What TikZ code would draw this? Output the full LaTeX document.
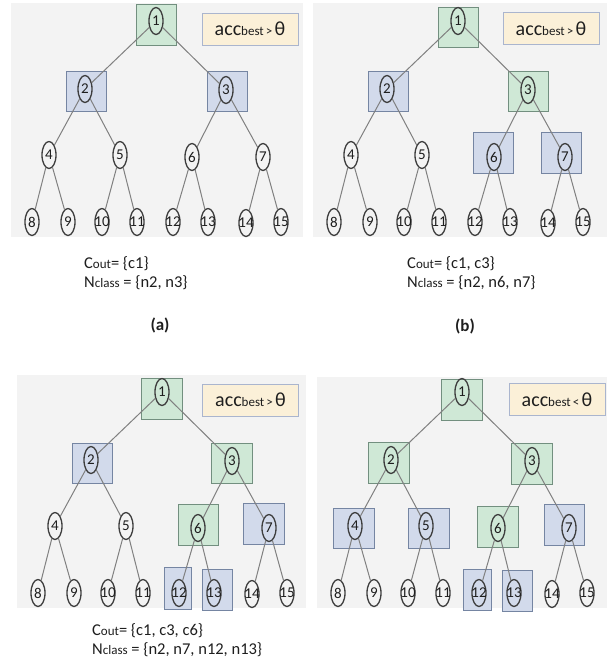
\documentclass[tikz,border=0pt]{standalone}
\usepackage{fontspec}
\setmainfont{Carlito}
\usetikzlibrary{shapes.geometric}
\definecolor{bggray}{HTML}{F3F3F3}
\definecolor{gfill}{HTML}{CFE8D6}
\definecolor{gline}{HTML}{728F7F}
\definecolor{bfill}{HTML}{D2DAEB}
\definecolor{bline}{HTML}{7585A2}
\definecolor{accfill}{HTML}{FBF0D8}
\definecolor{accline}{HTML}{AAB5CE}
\definecolor{ndline}{HTML}{3E3E3E}
\definecolor{edgegray}{HTML}{808080}
\definecolor{txt}{HTML}{1E1E1E}
\tikzset{
  nd/.style={ellipse, draw=ndline, line width=1.3pt, minimum width=14pt, minimum height=27pt,
    inner sep=0pt, text=txt, font=\fontsize{15}{15}\selectfont},
  gbox/.style={rectangle, draw=gline, fill=gfill, line width=0.9pt, inner sep=0pt},
  bbox/.style={rectangle, draw=bline, fill=bfill, line width=0.9pt, inner sep=0pt},
  treeedge/.style={draw=edgegray, line width=1pt},
  panelbg/.style={rectangle, fill=bggray, draw=none, inner sep=0pt},
  accbox/.style={rectangle, draw=accline, fill=accfill, line width=1pt, inner sep=0pt,
    minimum width=96pt, minimum height=32pt, text=txt},
  captext/.style={anchor=west, inner sep=0pt, text=txt, font=\fontsize{16.5}{16.5}\selectfont},
  sublabel/.style={inner sep=0pt, text=txt, font=\fontsize{17}{17}\selectfont\bfseries},
}
\newcommand\mytree[3]{%
  \begin{scope}[shift={(#2,#3)}]
    \node[nd] (#11) at (156,21) {\makebox[0pt]{1}};
    \node[nd] (#12) at (85,89) {\makebox[0pt]{2}};
    \node[nd] (#13) at (226,90) {\makebox[0pt]{3}};
    \node[nd] (#14) at (49,155) {\makebox[0pt]{4}};
    \node[nd] (#15) at (120,155) {\makebox[0pt]{5}};
    \node[nd] (#16) at (192,157) {\makebox[0pt]{6}};
    \node[nd] (#17) at (263,157) {\makebox[0pt]{7}};
    \node[nd] (#18) at (32,222) {\makebox[0pt]{8}};
    \node[nd] (#19) at (68,222) {\makebox[0pt]{9}};
    \node[nd] (#110) at (102,222) {\makebox[0pt]{10}};
    \node[nd] (#111) at (137,222) {\makebox[0pt]{11}};
    \node[nd] (#112) at (173,222) {\makebox[0pt]{12}};
    \node[nd] (#113) at (208,222) {\makebox[0pt]{13}};
    \node[nd] (#114) at (246,223) {\makebox[0pt]{14}};
    \node[nd] (#115) at (281,222) {\makebox[0pt]{15}};
    \foreach \p/\c in {1/2,1/3,2/4,2/5,3/6,3/7,4/8,4/9,5/10,5/11,6/12,6/13,7/14,7/15}
      \draw[treeedge] (#1\p) -- (#1\c);
  \end{scope}}
\newcommand\acctext[1]{{\fontsize{20}{20}\selectfont acc}{\fontsize{13}{13}\selectfont best\,#1\,}{\fontsize{20}{20}\selectfont θ}}
\begin{document}
\begin{tikzpicture}[x=1pt,y=-1pt]
\useasboundingbox (0,0) rectangle (607,667);
\fill[white] (0,0) rectangle (607,667);
% panels
\node[panelbg, minimum width=292pt, minimum height=234pt] (pa) at (157,120) {};
\node[panelbg, minimum width=294pt, minimum height=234pt] (pb) at (460,120) {};
\node[panelbg, minimum width=289pt, minimum height=233pt] (pc) at (161.5,491.5) {};
\node[panelbg, minimum width=290pt, minimum height=231pt] (pd) at (462,492.5) {};
% boxes panel a
\node[gbox, minimum width=40pt, minimum height=41pt] (ba1) at (156,25) {};
\node[bbox, minimum width=40pt, minimum height=40pt] (ba2) at (86,91) {};
\node[bbox, minimum width=40pt, minimum height=40pt] (ba3) at (227,91) {};
% boxes panel b
\node[gbox, minimum width=40pt, minimum height=40pt] (bb1) at (458,27) {};
\node[bbox, minimum width=40pt, minimum height=40pt] (bb2) at (388.5,91) {};
\node[gbox, minimum width=40pt, minimum height=40pt] (bb3) at (528,91) {};
\node[bbox, minimum width=40pt, minimum height=41pt] (bb6) at (493,152.5) {};
\node[bbox, minimum width=40pt, minimum height=41pt] (bb7) at (561,152.5) {};
% boxes panel c
\node[gbox, minimum width=41pt, minimum height=41pt] (bc1) at (161.5,398.5) {};
\node[bbox, minimum width=40pt, minimum height=40pt] (bc2) at (92,463) {};
\node[gbox, minimum width=41pt, minimum height=40pt] (bc3) at (231.5,463) {};
\node[gbox, minimum width=40pt, minimum height=41pt] (bc6) at (198,524.5) {};
\node[bbox, minimum width=41pt, minimum height=41pt] (bc7) at (263.5,523.5) {};
\node[bbox, minimum width=27pt, minimum height=42pt] (bc12) at (177.5,588) {};
\node[bbox, minimum width=30pt, minimum height=41pt] (bc13) at (217,589.5) {};
% boxes panel d
\node[gbox, minimum width=41pt, minimum height=41pt] (bd1) at (461.5,399.5) {};
\node[gbox, minimum width=41pt, minimum height=41pt] (bd2) at (388.5,462.5) {};
\node[gbox, minimum width=41pt, minimum height=41pt] (bd3) at (531.5,463.5) {};
\node[bbox, minimum width=41pt, minimum height=40pt] (bd4) at (353.5,528) {};
\node[bbox, minimum width=41pt, minimum height=40pt] (bd5) at (428.5,528) {};
\node[gbox, minimum width=41pt, minimum height=41pt] (bd6) at (497.5,526.5) {};
\node[bbox, minimum width=40pt, minimum height=41pt] (bd7) at (564,524.5) {};
\node[bbox, minimum width=28pt, minimum height=41pt] (bd12) at (477,589.5) {};
\node[bbox, minimum width=30pt, minimum height=41pt] (bd13) at (517,590.5) {};
% trees
\mytree{a}{0}{0}
\mytree{b}{302}{0}
\mytree{c}{6}{371}
\mytree{d}{306}{371}
% acc boxes
\node[accbox] (acca) at (250,29) {\acctext{>}};
\node[accbox] (accb) at (551,28.5) {\acctext{>}};
\node[accbox] (accc) at (250.5,400) {\acctext{>}};
\node[accbox] (accd) at (557,399.5) {\acctext{<}};
% captions
\node[captext] (ca1) at (84,264) {C{\fontsize{13}{13}\selectfont out}= \{c1\}};
\node[captext] (ca2) at (84,283) {N{\fontsize{13}{13}\selectfont class} = \{n2, n3\}};
\node[sublabel] (la) at (160,325) {(a)};
\node[captext] (cb1) at (407,264) {C{\fontsize{13}{13}\selectfont out}= \{c1, c3\}};
\node[captext] (cb2) at (407,283) {N{\fontsize{13}{13}\selectfont class} = \{n2, n6, n7\}};
\node[sublabel] (lb) at (465,326) {(b)};
\node[captext] (cc1) at (92,631) {C{\fontsize{13}{13}\selectfont out}= \{c1, c3, c6\}};
\node[captext] (cc2) at (92,650) {N{\fontsize{13}{13}\selectfont class} = \{n2, n7, n12, n13\}};
\end{tikzpicture}
\end{document}
